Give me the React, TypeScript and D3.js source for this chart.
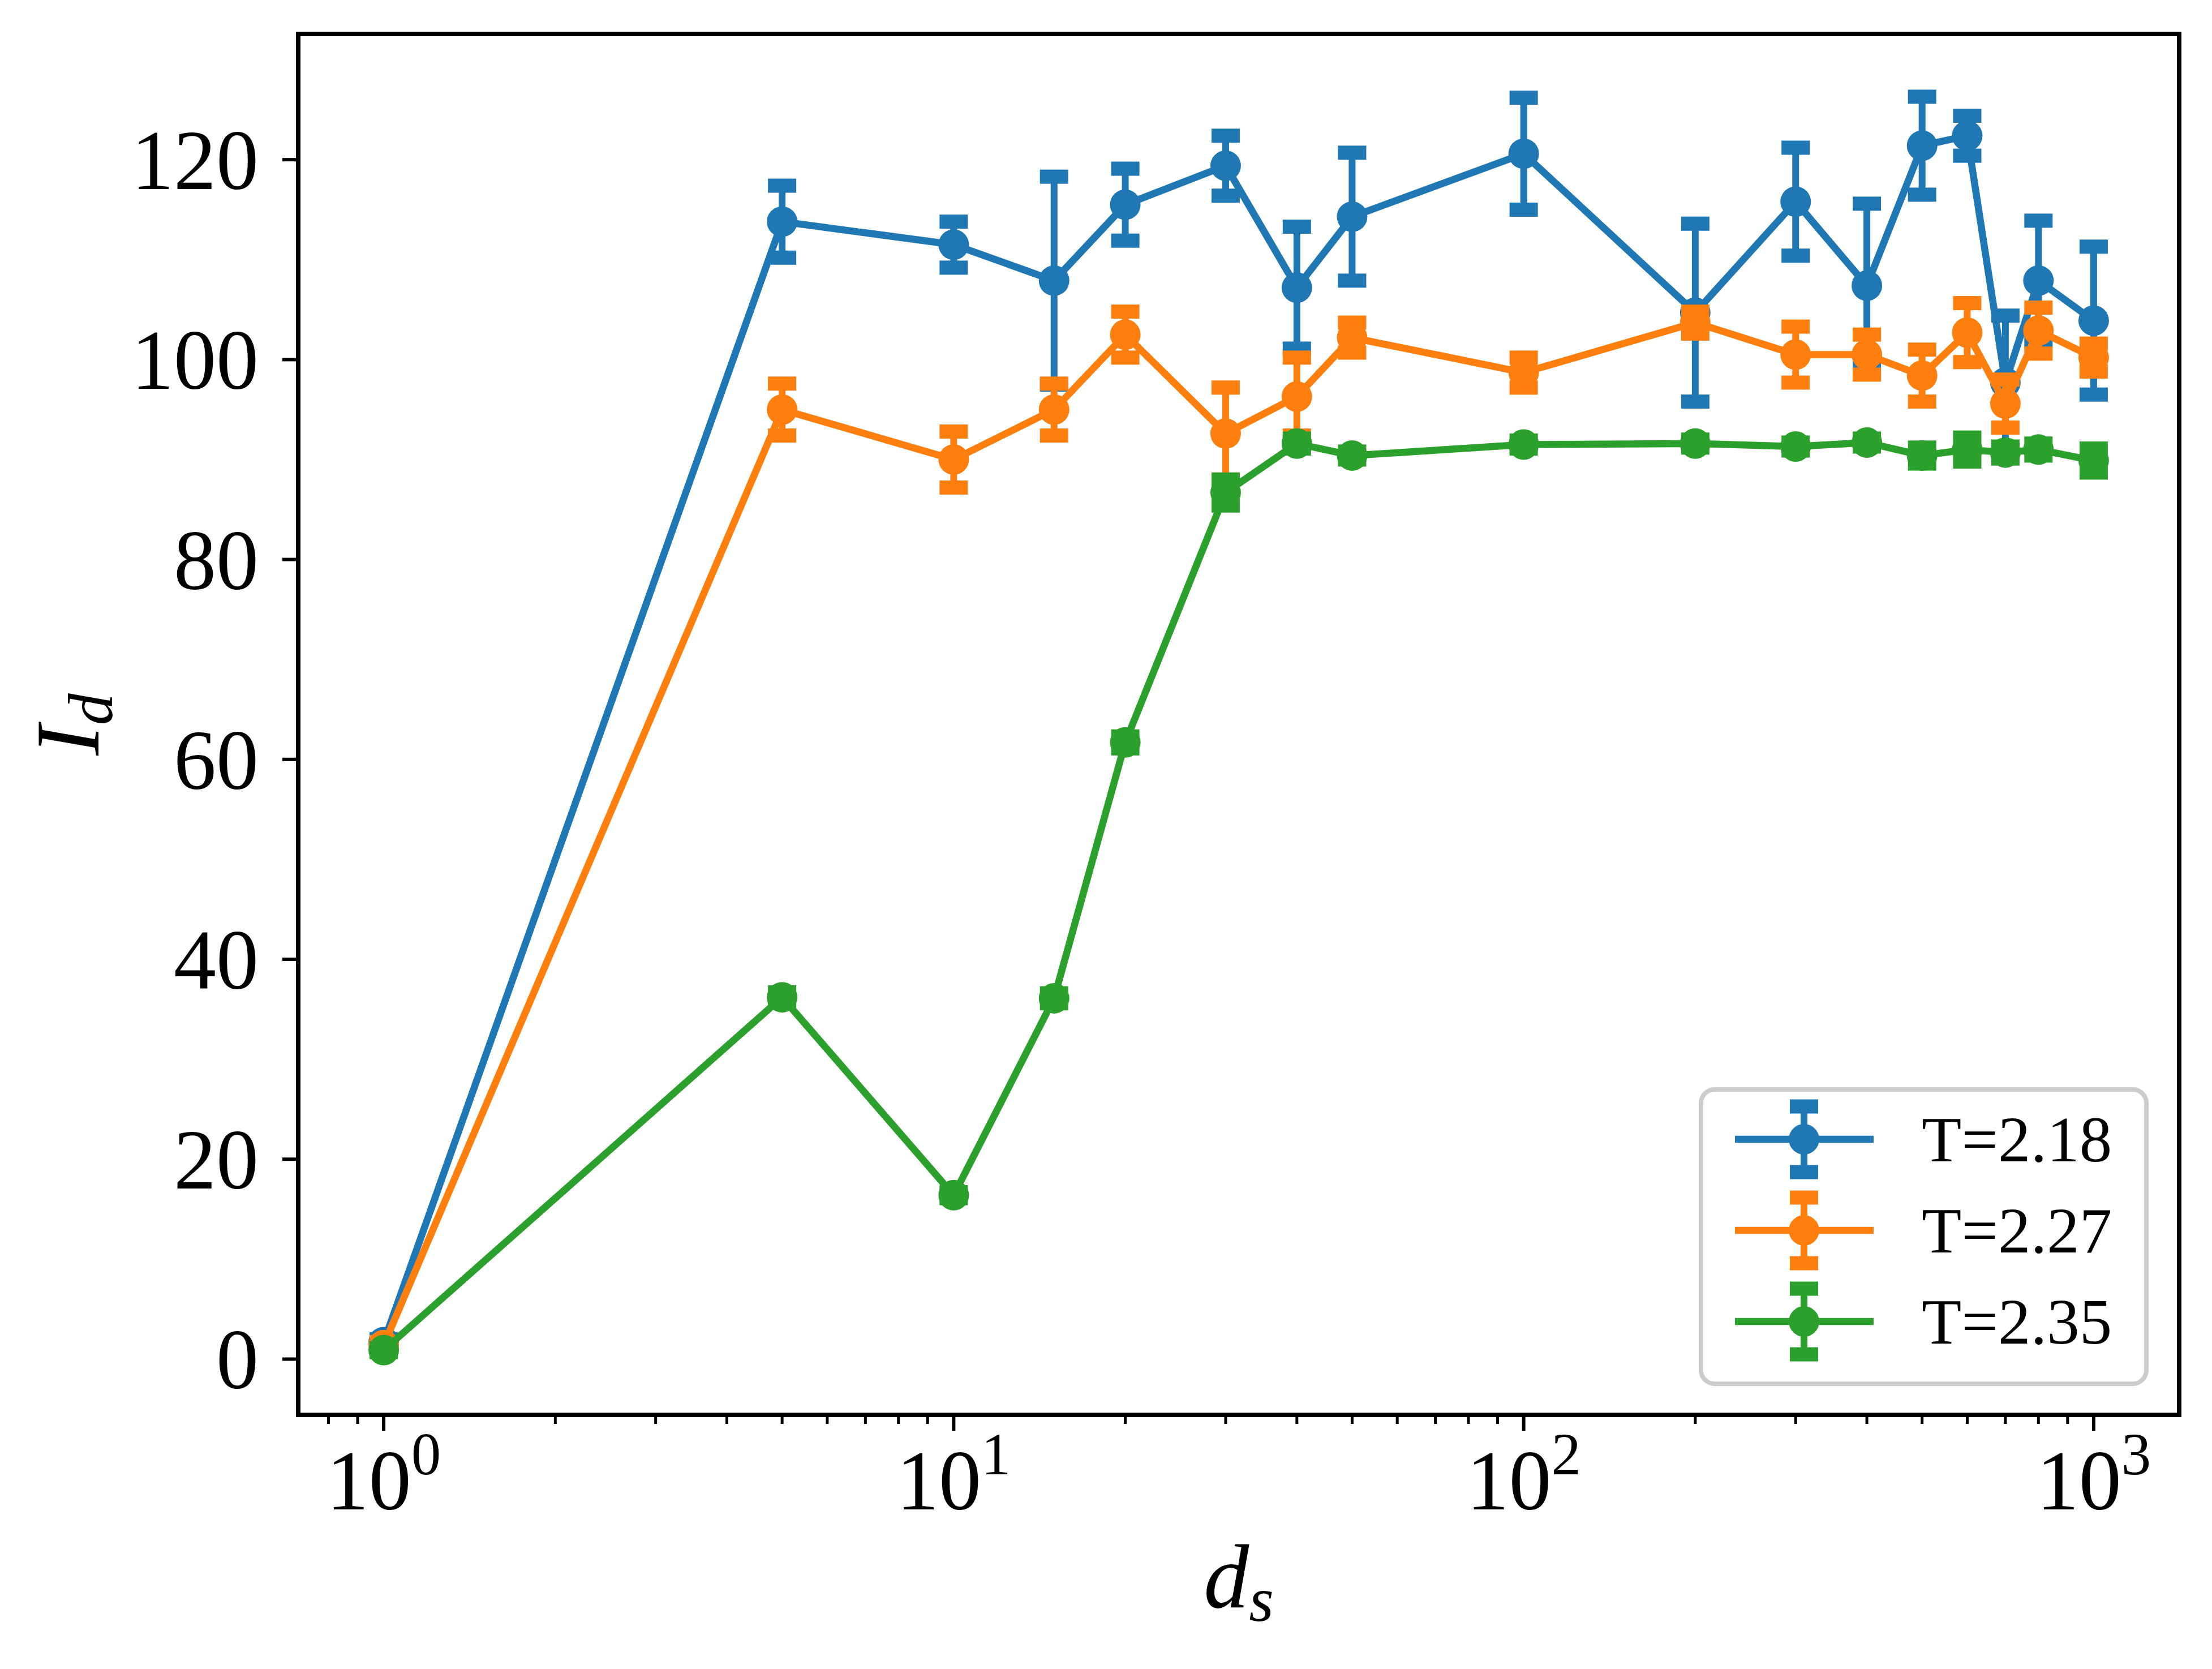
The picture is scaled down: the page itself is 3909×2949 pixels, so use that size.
import { useEffect, useRef } from 'react';
import * as d3 from 'd3';

const dsValues = [1, 5, 10, 15, 20, 30, 40, 50, 100, 200, 300, 400, 500, 600, 700, 800, 1000];

const seriesLabels = ['T=2.18', 'T=2.27', 'T=2.35'];
const seriesColors = ['#1f77b4', '#ff7f0e', '#2ca02c'];

const idT218 = [1.7, 113.8, 111.5, 107.9, 115.5, 119.4, 107.2, 114.3, 120.6, 104.7, 115.8, 107.4, 121.4, 122.4, 97.7, 107.9, 103.9];
const errT218 = [0.3, 3.6, 2.3, 10.4, 3.6, 3.0, 6.1, 6.4, 5.6, 8.9, 5.4, 8.2, 4.9, 2.0, 6.7, 6.0, 7.4];

const idT227 = [1.4, 95.0, 90.0, 95.0, 102.5, 92.6, 96.3, 102.2, 98.7, 103.7, 100.5, 100.5, 98.4, 102.7, 95.6, 102.9, 100.2];
const errT227 = [0.3, 2.6, 2.8, 2.6, 2.3, 4.6, 3.9, 1.5, 1.5, 1.1, 2.8, 2.0, 2.6, 2.95, 2.4, 2.3, 1.4];

const idT235 = [0.9, 36.2, 16.4, 36.1, 61.7, 86.7, 91.6, 90.4, 91.5, 91.6, 91.3, 91.7, 90.4, 91.0, 90.7, 91.0, 89.9];
const errT235 = [0.2, 0.5, 0.3, 0.5, 0.6, 1.3, 0.5, 0.4, 0.4, 0.4, 0.4, 0.4, 0.8, 1.2, 0.6, 0.6, 1.2];

const yTicks = [0, 20, 40, 60, 80, 100, 120];
const xMajorTicks = [1, 10, 100, 1000];
const xTickExponents = ['0', '1', '2', '3'];

const WIDTH = 3909;
const HEIGHT = 2949;
const FONT = '"Liberation Serif", "DejaVu Serif", serif';

export default function App() {
  const svgRef = useRef<SVGSVGElement>(null);

  useEffect(() => {
    if (!svgRef.current) return;
    const svg = d3.select(svgRef.current);
    svg.selectAll('*').remove();

    const left = 527;
    const right = 3851;
    const top = 60;
    const bottom = 2500;

    const series = [
      { label: seriesLabels[0], color: seriesColors[0], vals: idT218, errs: errT218 },
      { label: seriesLabels[1], color: seriesColors[1], vals: idT227, errs: errT227 },
      { label: seriesLabels[2], color: seriesColors[2], vals: idT235, errs: errT235 },
    ];

    // matplotlib-like 5% margins
    const lo = d3.min(series, (s) => d3.min(s.vals, (v, i) => v - s.errs[i])) as number;
    const hi = d3.max(series, (s) => d3.max(s.vals, (v, i) => v + s.errs[i])) as number;
    const pad = (hi - lo) * 0.05;
    const lx0 = Math.log10(d3.min(dsValues) as number);
    const lx1 = Math.log10(d3.max(dsValues) as number);
    const lpad = (lx1 - lx0) * 0.05;

    const x = d3
      .scaleLog()
      .domain([Math.pow(10, lx0 - lpad), Math.pow(10, lx1 + lpad)])
      .range([left, right]);
    const y = d3.scaleLinear().domain([lo - pad, hi + pad]).range([bottom, top]);

    svg.append('rect').attr('width', WIDTH).attr('height', HEIGHT).attr('fill', 'white');

    const plot = svg.append('g');

    // Series
    series.forEach((s) => {
      const g = plot.append('g');
      const line = d3
        .line<number>()
        .x((_, i) => x(dsValues[i]))
        .y((v) => y(v));
      g.append('path')
        .attr('d', line(s.vals))
        .attr('fill', 'none')
        .attr('stroke', s.color)
        .attr('stroke-width', 12.5)
        .attr('stroke-linejoin', 'round');

      // error bars
      g.selectAll('line.bar')
        .data(s.vals)
        .join('line')
        .attr('class', 'bar')
        .attr('x1', (_, i) => x(dsValues[i]))
        .attr('x2', (_, i) => x(dsValues[i]))
        .attr('y1', (v, i) => y(v - s.errs[i]))
        .attr('y2', (v, i) => y(v + s.errs[i]))
        .attr('stroke', s.color)
        .attr('stroke-width', 12);

      const caps: { xv: number; yv: number }[] = [];
      s.vals.forEach((v, i) => {
        caps.push({ xv: dsValues[i], yv: v - s.errs[i] });
        caps.push({ xv: dsValues[i], yv: v + s.errs[i] });
      });
      g.selectAll('rect.cap')
        .data(caps)
        .join('rect')
        .attr('class', 'cap')
        .attr('x', (d) => x(d.xv) - 25)
        .attr('y', (d) => y(d.yv) - 12.5)
        .attr('width', 50)
        .attr('height', 25)
        .attr('fill', s.color);

      g.selectAll('circle')
        .data(s.vals)
        .join('circle')
        .attr('cx', (_, i) => x(dsValues[i]))
        .attr('cy', (v) => y(v))
        .attr('r', 27)
        .attr('fill', s.color);
    });

    // Axes frame
    svg.append('rect')
      .attr('x', left)
      .attr('y', top)
      .attr('width', right - left)
      .attr('height', bottom - top)
      .attr('fill', 'none')
      .attr('stroke', 'black')
      .attr('stroke-width', 8);

    // Y ticks
    const yAxis = svg.append('g');
    yTicks.forEach((t) => {
      yAxis.append('line')
        .attr('x1', left - 28)
        .attr('x2', left)
        .attr('y1', y(t))
        .attr('y2', y(t))
        .attr('stroke', 'black')
        .attr('stroke-width', 6);
      yAxis.append('text')
        .attr('x', left - 70)
        .attr('y', y(t) + 52)
        .attr('text-anchor', 'end')
        .attr('font-family', FONT)
        .attr('font-size', 150)
        .text(String(t));
    });

    // X ticks (major + minor)
    const [d0, d1] = x.domain();
    const minor: number[] = [];
    for (let e = -1; e <= 3; e++) {
      for (let m = 2; m <= 9; m++) {
        const v = m * Math.pow(10, e);
        if (v >= d0 && v <= d1) minor.push(v);
      }
    }
    const xAxis = svg.append('g');
    minor.forEach((v) => {
      xAxis.append('line')
        .attr('x1', x(v))
        .attr('x2', x(v))
        .attr('y1', bottom)
        .attr('y2', bottom + 16)
        .attr('stroke', 'black')
        .attr('stroke-width', 5);
    });
    xMajorTicks.forEach((v, i) => {
      xAxis.append('line')
        .attr('x1', x(v))
        .attr('x2', x(v))
        .attr('y1', bottom)
        .attr('y2', bottom + 28)
        .attr('stroke', 'black')
        .attr('stroke-width', 6);
      const t = xAxis.append('text')
        .attr('x', x(v))
        .attr('y', 2667)
        .attr('text-anchor', 'middle')
        .attr('font-family', FONT)
        .attr('font-size', 150);
      t.append('tspan').text('10');
      t.append('tspan')
        .attr('font-size', 105)
        .attr('dy', -62)
        .text(xTickExponents[i]);
    });

    // Axis labels
    const xl = svg.append('text')
      .attr('x', (left + right) / 2)
      .attr('y', 2840)
      .attr('text-anchor', 'middle')
      .attr('font-family', FONT)
      .attr('font-style', 'italic')
      .attr('font-size', 160);
    xl.append('tspan').text('d');
    xl.append('tspan').attr('font-size', 112).attr('dy', 24).text('s');

    const yl = svg.append('text')
      .attr('transform', `translate(174,${(top + bottom) / 2}) rotate(-90)`)
      .attr('text-anchor', 'middle')
      .attr('font-family', FONT)
      .attr('font-style', 'italic')
      .attr('font-size', 160);
    yl.append('tspan').text('I');
    yl.append('tspan').attr('font-size', 112).attr('dy', 24).text('d');

    // Legend
    const legend = svg.append('g');
    legend.append('rect')
      .attr('x', 3006)
      .attr('y', 1925)
      .attr('width', 787)
      .attr('height', 520)
      .attr('rx', 24)
      .attr('fill', 'white')
      .attr('fill-opacity', 0.8)
      .attr('stroke', '#cccccc')
      .attr('stroke-width', 8);
    series.forEach((s, i) => {
      const cy = 2013 + i * 161;
      const cx = 3188;
      legend.append('line')
        .attr('x1', 3066)
        .attr('x2', 3311)
        .attr('y1', cy)
        .attr('y2', cy)
        .attr('stroke', s.color)
        .attr('stroke-width', 12.5);
      legend.append('line')
        .attr('x1', cx)
        .attr('x2', cx)
        .attr('y1', cy - 58)
        .attr('y2', cy + 58)
        .attr('stroke', s.color)
        .attr('stroke-width', 12);
      [-58, 58].forEach((o) => {
        legend.append('rect')
          .attr('x', cx - 25)
          .attr('y', cy + o - 12.5)
          .attr('width', 50)
          .attr('height', 25)
          .attr('fill', s.color);
      });
      legend.append('circle')
        .attr('cx', cx)
        .attr('cy', cy)
        .attr('r', 27)
        .attr('fill', s.color);
      legend.append('text')
        .attr('x', 3396)
        .attr('y', cy + 39)
        .attr('font-family', FONT)
        .attr('font-size', 115)
        .text(s.label);
    });
  }, []);

  return (
    <svg
      ref={svgRef}
      width={WIDTH}
      height={HEIGHT}
      style={{ position: 'absolute', left: 0, top: 0, display: 'block' }}
    />
  );
}
